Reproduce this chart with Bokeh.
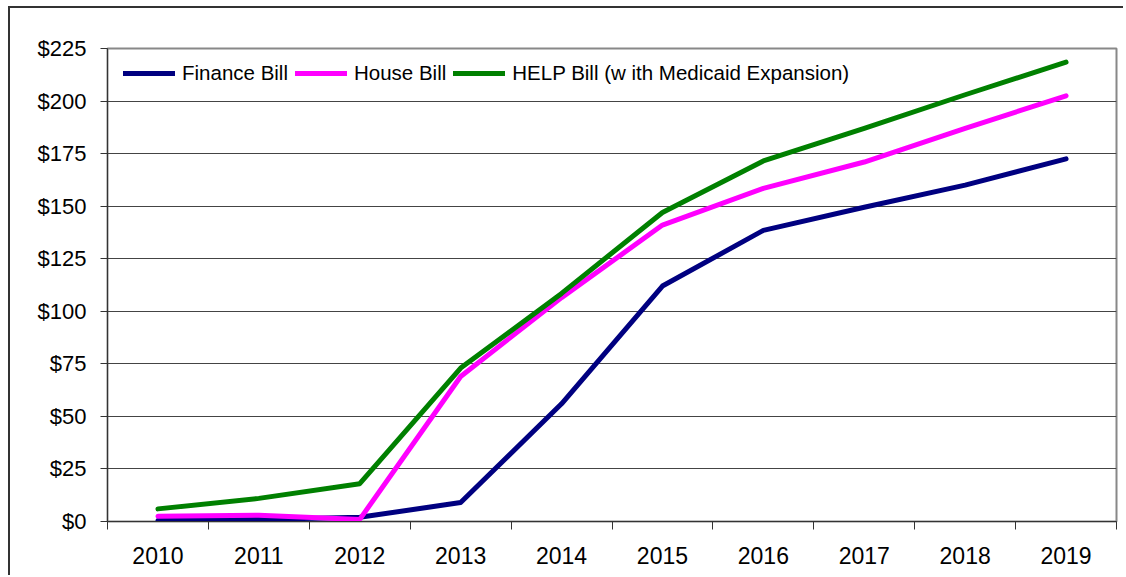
from bokeh.plotting import figure
from bokeh.models import FixedTicker, ColumnDataSource, Legend, LegendItem
from bokeh.embed import file_html
from bokeh.resources import INLINE

years = ["2010", "2011", "2012", "2013", "2014", "2015", "2016", "2017", "2018", "2019"]
finance = [0.5, 1, 2, 9, 56, 112, 138.5, 149.5, 160, 172.5]
house = [2.5, 3, 1, 69, 106.5, 141, 158.5, 171, 187, 202.5]
help_bill = [6, 11, 18, 73, 108.5, 147, 171.5, 187, 203, 218.5]
series_names = ["Finance Bill", "House Bill", "HELP Bill (w ith Medicaid Expansion)"]
series_colors = ["#000080", "#FF00FF", "#008000"]
y_ticks = [0, 25, 50, 75, 100, 125, 150, 175, 200, 225]

FONT = "Liberation Sans"

xpos = [i + 0.5 for i in range(len(years))]

p = figure(width=1115, height=569, x_range=(0, len(years)), y_range=(0, 225),
           output_backend="svg", toolbar_location=None,
           min_border_left=97, min_border_top=40, min_border_right=9, min_border_bottom=56)
p.styles = {"border-left": "2px solid #333333", "border-top": "2px solid #333333",
            "margin-left": "8px", "margin-top": "6px"}

p.outline_line_color = "#888888"
p.outline_line_width = 2
p.background_fill_color = "white"
p.border_fill_color = "white"

# x axis
p.xaxis.ticker = FixedTicker(ticks=xpos, minor_ticks=list(range(len(years) + 1)))
p.xaxis.major_label_overrides = {x: y for x, y in zip(xpos, years)}
p.xaxis.major_tick_line_color = None
p.xaxis.minor_tick_line_color = "#333333"
p.xaxis.minor_tick_out = 8
p.xaxis.minor_tick_in = 0
p.xaxis.axis_line_color = "#333333"
p.xaxis.axis_line_width = 1
p.xaxis.major_label_text_font = FONT
p.xaxis.major_label_text_font_size = "23px"
p.xaxis.major_label_text_color = "black"
p.xaxis.major_label_standoff = 17

# y axis
p.yaxis.ticker = FixedTicker(ticks=y_ticks)
p.yaxis.major_label_overrides = {v: "$" + str(v) for v in y_ticks}
p.yaxis.major_tick_line_color = "#333333"
p.yaxis.major_tick_out = 7
p.yaxis.major_tick_in = 0
p.yaxis.minor_tick_line_color = None
p.yaxis.axis_line_color = "#333333"
p.yaxis.major_label_text_font = FONT
p.yaxis.major_label_text_font_size = "22px"
p.yaxis.major_label_text_color = "black"
p.yaxis.major_label_standoff = 14

p.xgrid.grid_line_color = None
p.ygrid.grid_line_color = "#444444"
p.ygrid.grid_line_width = 1

renderers = []
for vals, color in zip([finance, house, help_bill], series_colors):
    src = ColumnDataSource(dict(x=xpos, y=vals))
    r = p.line("x", "y", source=src, line_color=color, line_width=5,
               line_cap="round", line_join="round")
    renderers.append(r)

legend = Legend(items=[LegendItem(label=n, renderers=[r]) for n, r in zip(series_names, renderers)],
                orientation="horizontal", location=(16, 436))
legend.border_line_color = None
legend.background_fill_alpha = 0
legend.label_text_font = FONT
legend.label_text_font_size = "20.5px"
legend.label_text_color = "black"
legend.glyph_width = 52
legend.glyph_height = 20
legend.label_height = 20
legend.label_standoff = 7
legend.spacing = 7
legend.padding = 4
legend.margin = 0
p.add_layout(legend, "center")

open("out.html", "w").write(file_html(p, INLINE))
